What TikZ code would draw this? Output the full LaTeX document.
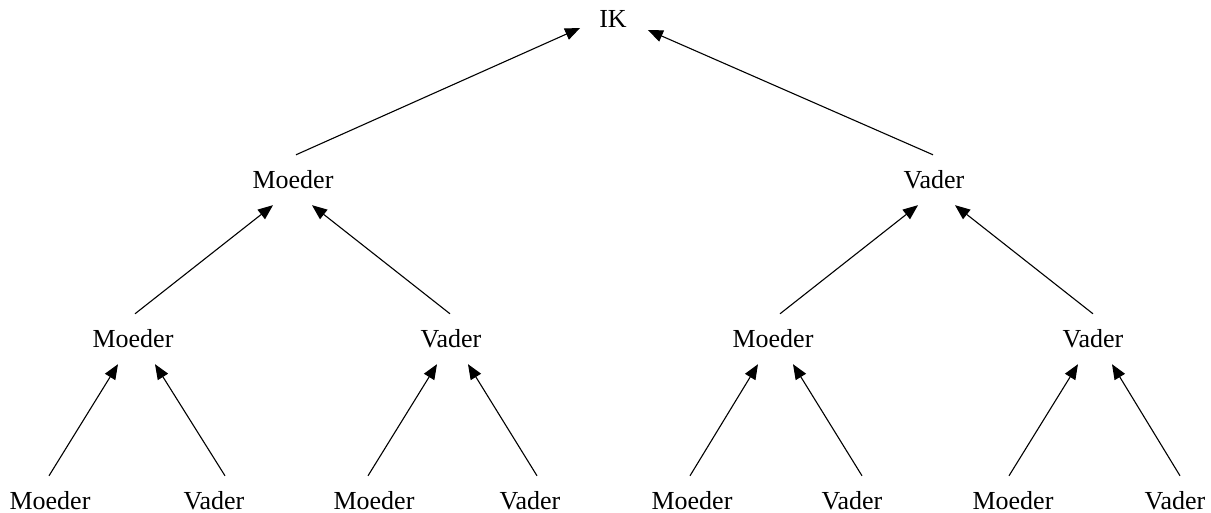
\documentclass[tikz,border=0pt]{standalone}
\usepackage{fontspec}
\setmainfont{Liberation Serif}
\usetikzlibrary{arrows.meta}
\begin{document}
\begin{tikzpicture}[x=1pt,y=1pt,
  lbl/.style={font=\fontsize{26}{30}\selectfont, inner xsep=0pt, inner ysep=16pt,
              text height=18pt, text depth=0pt, anchor=base},
  leaf/.style={lbl, inner ysep=0pt, text height=34pt},
  arr/.style={line width=1.1pt, -{Triangle[length=15pt,width=12pt]}}]
\useasboundingbox (0,0) rectangle (1211,513);
% nodes
\node[lbl] (ik) at (613,485) {IK};
\node[lbl] (m1) at (293,324) {Moeder};
\node[lbl] (v1) at (934,324) {Vader};
\node[lbl] (m2a) at (133,165) {Moeder};
\node[lbl] (v2a) at (451,165) {Vader};
\node[lbl] (m2b) at (773,165) {Moeder};
\node[lbl] (v2b) at (1093,165) {Vader};
\node[leaf] (m3a) at (50,3) {Moeder};
\node[leaf] (v3a) at (214,3) {Vader};
\node[leaf] (m3b) at (374,3) {Moeder};
\node[leaf] (v3b) at (530,3) {Vader};
\node[leaf] (m3c) at (692,3) {Moeder};
\node[leaf] (v3c) at (852,3) {Vader};
\node[leaf] (m3d) at (1013,3) {Moeder};
\node[leaf] (v3d) at (1175,3) {Vader};
% bottom level
\draw[arr] ([xshift=-1pt]m3a.north) -- ([xshift=-15pt]m2a.south);
\draw[arr] ([xshift=11pt]v3a.north) -- ([xshift=22pt]m2a.south);
\draw[arr] ([xshift=-6pt]m3b.north) -- ([xshift=-14pt]v2a.south);
\draw[arr] ([xshift=7pt]v3b.north) -- ([xshift=17pt]v2a.south);
\draw[arr] ([xshift=-2pt]m3c.north) -- ([xshift=-15pt]m2b.south);
\draw[arr] ([xshift=10pt]v3c.north) -- ([xshift=20pt]m2b.south);
\draw[arr] ([xshift=-4pt]m3d.north) -- ([xshift=-15pt]v2b.south);
\draw[arr] ([xshift=5pt]v3d.north) -- ([xshift=19pt]v2b.south);
% middle level
\draw[arr] ([xshift=2pt]m2a.north) -- ([xshift=-20pt]m1.south);
\draw[arr] ([xshift=-1pt]v2a.north) -- ([xshift=19pt]m1.south);
\draw[arr] ([xshift=7pt]m2b.north) -- ([xshift=-16pt]v1.south);
\draw[arr] ([xshift=0pt]v2b.north) -- ([xshift=21pt]v1.south);
% top level
\draw[arr] ([xshift=3pt]m1.north) -- ([xshift=-19pt]ik.base west);
\draw[arr] ([xshift=-1pt]v1.north) -- ([xshift=21pt,yshift=-2pt]ik.base east);
\end{tikzpicture}
\end{document}
